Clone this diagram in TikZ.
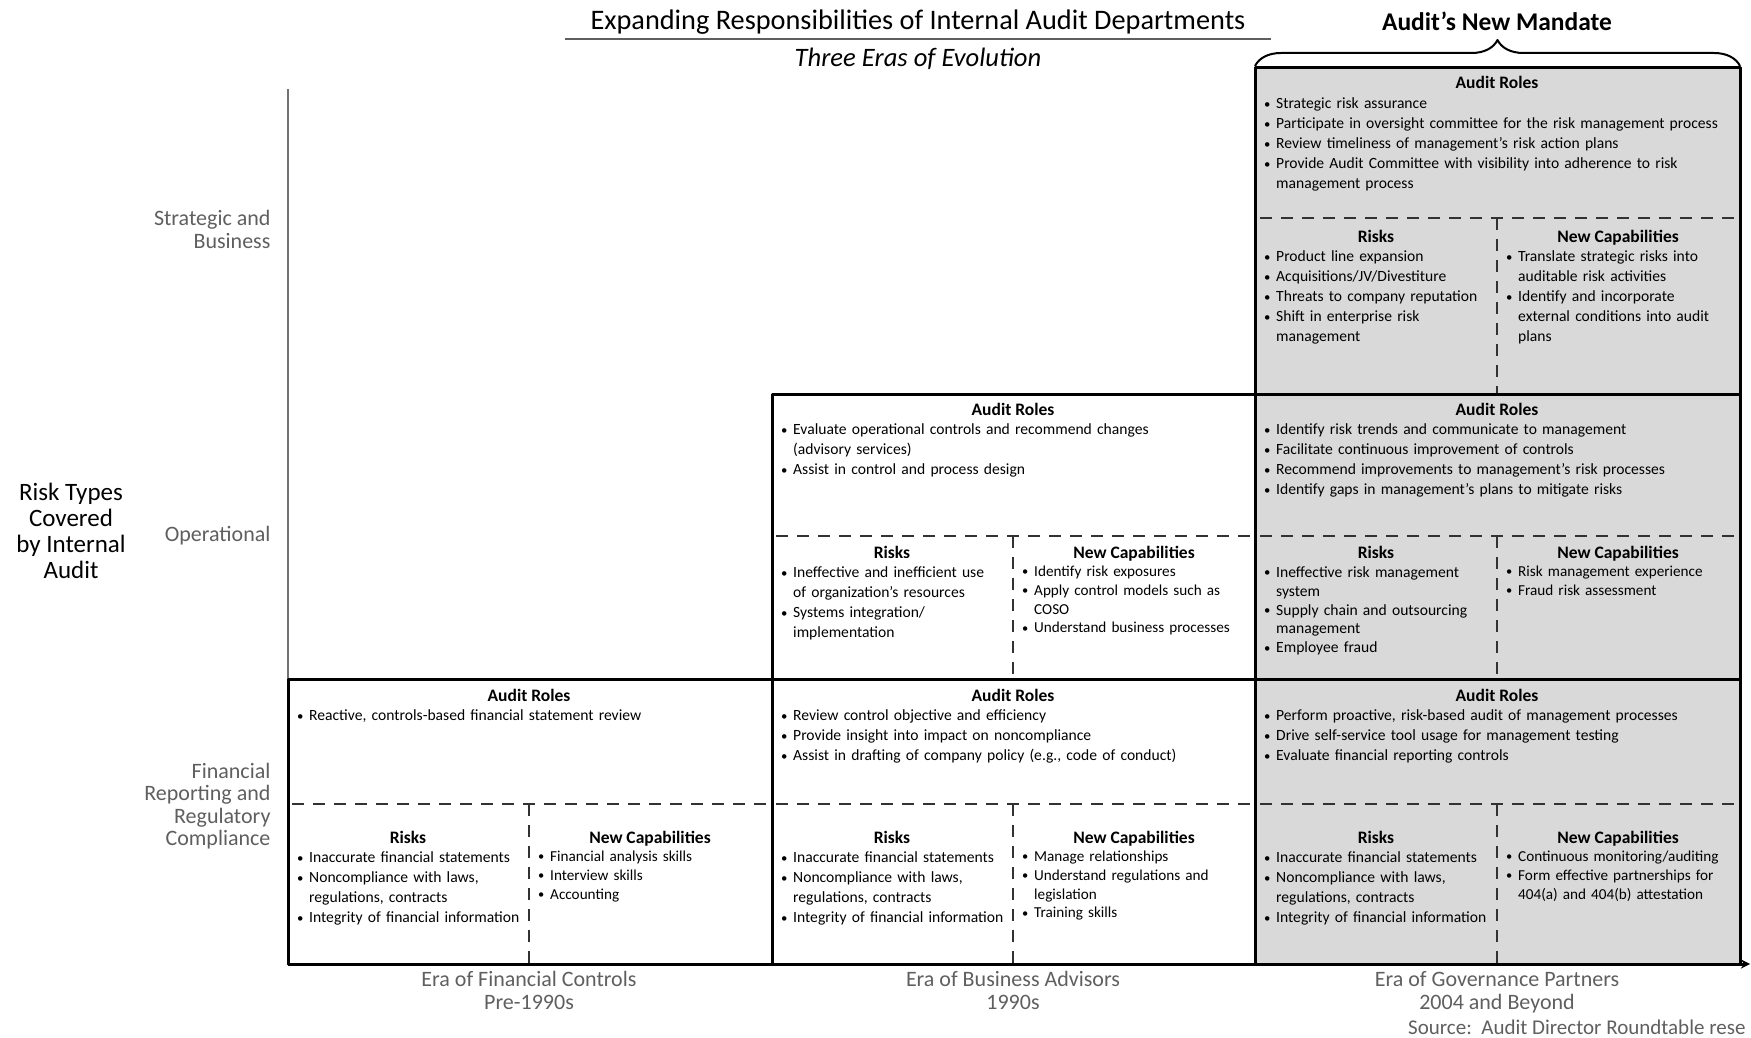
\documentclass[tikz,border=0pt]{standalone}
\usepackage{fontspec}
\setmainfont{Carlito}
\usetikzlibrary{decorations.pathreplacing}
\definecolor{govfill}{RGB}{217,217,217}
\definecolor{labelgray}{RGB}{95,95,95}
\definecolor{axisgray}{RGB}{115,115,115}
\definecolor{dashgray}{RGB}{50,50,50}
\newcommand\itm[1]{\par\hangindent=12pt\hangafter=1\noindent\makebox[12pt][l]{\raisebox{.08ex}{\scalebox{.82}{\textbullet}}}\strut#1}
\newcommand\nl{\hfil\break}
\begin{document}
\begin{tikzpicture}[x=1pt,y=-1pt,>=stealth,line join=round]
	\tikzset{
		cellhead/.style={anchor=base,inner sep=0pt,font=\bfseries\fontsize{17.5}{20}\selectfont},
		itemlist/.style={anchor=north west,inner sep=0pt,text width=#1,align=left,font=\fontsize{15.6}{20}\selectfont},
		tightlist/.style={itemlist=#1,font=\fontsize{15.6}{18.8}\selectfont},
		caplist/.style={itemlist=#1,font=\fontsize{15.2}{18.8}\selectfont},
		axislabel/.style={text=labelgray,font=\fontsize{22}{22.3}\selectfont},
		cellbox/.style={draw=black,line width=3pt},
		splitline/.style={draw=dashgray,line width=1.6pt,dash pattern=on 12pt off 9pt}
	}
	\def\xa{288}\def\xb{772}\def\xc{1255}\def\xd{1740}
	\def\ya{68}\def\yb{394}\def\yc{679}\def\yd{964}
	\useasboundingbox (0,0) rectangle (1751,1038);
	% shaded column and axes
	\fill[govfill] (\xc,\ya) rectangle (\xd,\yd);
	\draw[axisgray,line width=2.5pt] (\xa,89) -- (\xa,\yc);
	\draw[->,line width=3pt] (\xa,\yd) -- (1750,\yd);
	% dashed splits of the cells
	\foreach \l/\m/\r/\s/\b in {\xa/529/\xb/804/\yd,\xb/1013/\xc/804/\yd,\xc/1497/\xd/804/\yd,
		\xb/1013/\xc/536/\yc,\xc/1497/\xd/536/\yc,\xc/1497/\xd/218/\yb}{
		\draw[splitline,dash phase=6pt] (\m,\s) -- (\l,\s) (\m,\s) -- (\r,\s);
		\draw[splitline] (\m,\s) -- (\m,\b);
	}
	\foreach \l/\t/\r/\b in {\xa/\yc/\xb/\yd,\xb/\yc/\xc/\yd,\xc/\yc/\xd/\yd,
		\xb/\yb/\xc/\yc,\xc/\yb/\xd/\yc,\xc/\ya/\xd/\yb}
	\draw[cellbox] (\l,\t) rectangle (\r,\b);
	% headings
	\foreach \cx/\cy [count=\i] in {1497/89,1013/415,1497/415,529/701,1013/701,1497/701}
	\node[cellhead] (roles\i) at (\cx,\cy) {Audit Roles};
	\foreach \lx/\cy [count=\i] in {1376/242,892/558,1376/558,408/843,892/843,1376/843}{
		\node[cellhead] (risks\i) at (\lx,\cy) {Risks};
		\node[cellhead] (caps\i) at (\lx+242,\cy) {New Capabilities};
	}
	% strategic and business
	\node[itemlist=470] (rolesList1) at (1264,88.5) {\itm{Strategic risk assurance}\itm{Participate in oversight committee for the risk management process}\itm{Review timeliness of management’s risk action plans}\itm{Provide Audit Committee with visibility into adherence to risk\nl management process}\par};
	\node[itemlist=240] (risksList1) at (1264,241.5) {\itm{Product line expansion}\itm{Acquisitions/JV/Divestiture}\itm{Threats to company reputation}\itm{Shift in enterprise risk\nl management}\par};
	\node[itemlist=240] (capsList1) at (1506,241.5) {\itm{Translate strategic risks into\nl auditable risk activities}\itm{Identify and incorporate\nl external conditions into audit\nl plans}\par};
	% operational
	\node[itemlist=470] (rolesList2) at (781,414.5) {\itm{Evaluate operational controls and recommend changes\nl (advisory services)}\itm{Assist in control and process design}\par};
	\node[itemlist=240] (risksList2) at (781,557.5) {\itm{Ineffective and inefficient use\nl of organization’s resources}\itm{Systems integration/\nl implementation}\par};
	\node[caplist=240] (capsList2) at (1022,557.5) {\itm{Identify risk exposures}\itm{Apply control models such as\nl COSO}\itm{Understand business processes}\par};
	\node[itemlist=470] (rolesList3) at (1264,414.5) {\itm{Identify risk trends and communicate to management}\itm{Facilitate continuous improvement of controls}\itm{Recommend improvements to management’s risk processes}\itm{Identify gaps in management’s plans to mitigate risks}\par};
	\node[tightlist=240] (risksList3) at (1264,558.5) {\itm{Ineffective risk management\nl system}\itm{Supply chain and outsourcing\nl management}\itm{Employee fraud}\par};
	\node[caplist=240] (capsList3) at (1506,557.5) {\itm{Risk management experience}\itm{Fraud risk assessment}\par};
	% financial reporting and regulatory compliance
	\node[itemlist=470] (rolesList4) at (297,700.5) {\itm{Reactive, controls-based financial statement review}\par};
	\node[itemlist=240] (risksList4) at (297,842.5) {\itm{Inaccurate financial statements}\itm{Noncompliance with laws,\nl regulations, contracts}\itm{Integrity of financial information}\par};
	\node[caplist=240] (capsList4) at (538,842.5) {\itm{Financial analysis skills}\itm{Interview skills}\itm{Accounting}\par};
	\node[itemlist=470] (rolesList5) at (781,700.5) {\itm{Review control objective and efficiency}\itm{Provide insight into impact on noncompliance}\itm{Assist in drafting of company policy (e.g., code of conduct)}\par};
	\node[itemlist=240] (risksList5) at (781,842.5) {\itm{Inaccurate financial statements}\itm{Noncompliance with laws,\nl regulations, contracts}\itm{Integrity of financial information}\par};
	\node[caplist=240] (capsList5) at (1022,842.5) {\itm{Manage relationships}\itm{Understand regulations and\nl legislation}\itm{Training skills}\par};
	\node[itemlist=470] (rolesList6) at (1264,700.5) {\itm{Perform proactive, risk-based audit of management processes}\itm{Drive self-service tool usage for management testing}\itm{Evaluate financial reporting controls}\par};
	\node[itemlist=240] (risksList6) at (1264,842.5) {\itm{Inaccurate financial statements}\itm{Noncompliance with laws,\nl regulations, contracts}\itm{Integrity of financial information}\par};
	\node[caplist=240] (capsList6) at (1506,842.5) {\itm{Continuous monitoring/auditing}\itm{Form effective partnerships for\nl 404(a) and 404(b) attestation}\par};
	% axis labels
	\node[font=\fontsize{25}{26}\selectfont,align=center] (axisTitle) at (71,531) {Risk Types\\Covered\\by Internal\\Audit};
	\node[axislabel,anchor=east,align=right] (rowStrategic) at (274,232.5) {\strut Strategic and\\\strut Business};
	\node[axislabel,anchor=east,align=right] (rowOperational) at (274,537) {\strut Operational};
	\node[axislabel,anchor=east,align=right] (rowFinancial) at (274,807.5) {\strut Financial\\\strut Reporting and\\\strut Regulatory\\\strut Compliance};
	\foreach \cx/\era/\yrs [count=\i] in {529/Era of Financial Controls/Pre-1990s,1013/Era of Business Advisors/1990s,1497/Era of Governance Partners/2004 and Beyond}
	\node[axislabel,align=center] (era\i) at (\cx,993.5) {\strut\era\\\strut\yrs};
	\node[axislabel,anchor=east,font=\fontsize{21}{22}\selectfont] (source) at (1749,1027) {Source:\ \ Audit Director Roundtable rese};
	% titles
	\node[font=\fontsize{28.3}{30}\selectfont] (title) at (918,22) {Expanding Responsibilities of Internal Audit Departments};
	\draw[labelgray,line width=2pt] (565,39) -- (1271,39);
	\node[font=\itshape\fontsize{26.6}{28}\selectfont] (subtitle) at (918,59) {Three Eras of Evolution};
	\node[font=\bfseries\fontsize{25.5}{28}\selectfont] (mandate) at (1497,21) {Audit’s New Mandate};
	\draw[decorate,decoration={brace,amplitude=26pt},line width=2pt] (\xc,66) -- (\xd,66);
\end{tikzpicture}
\end{document}
